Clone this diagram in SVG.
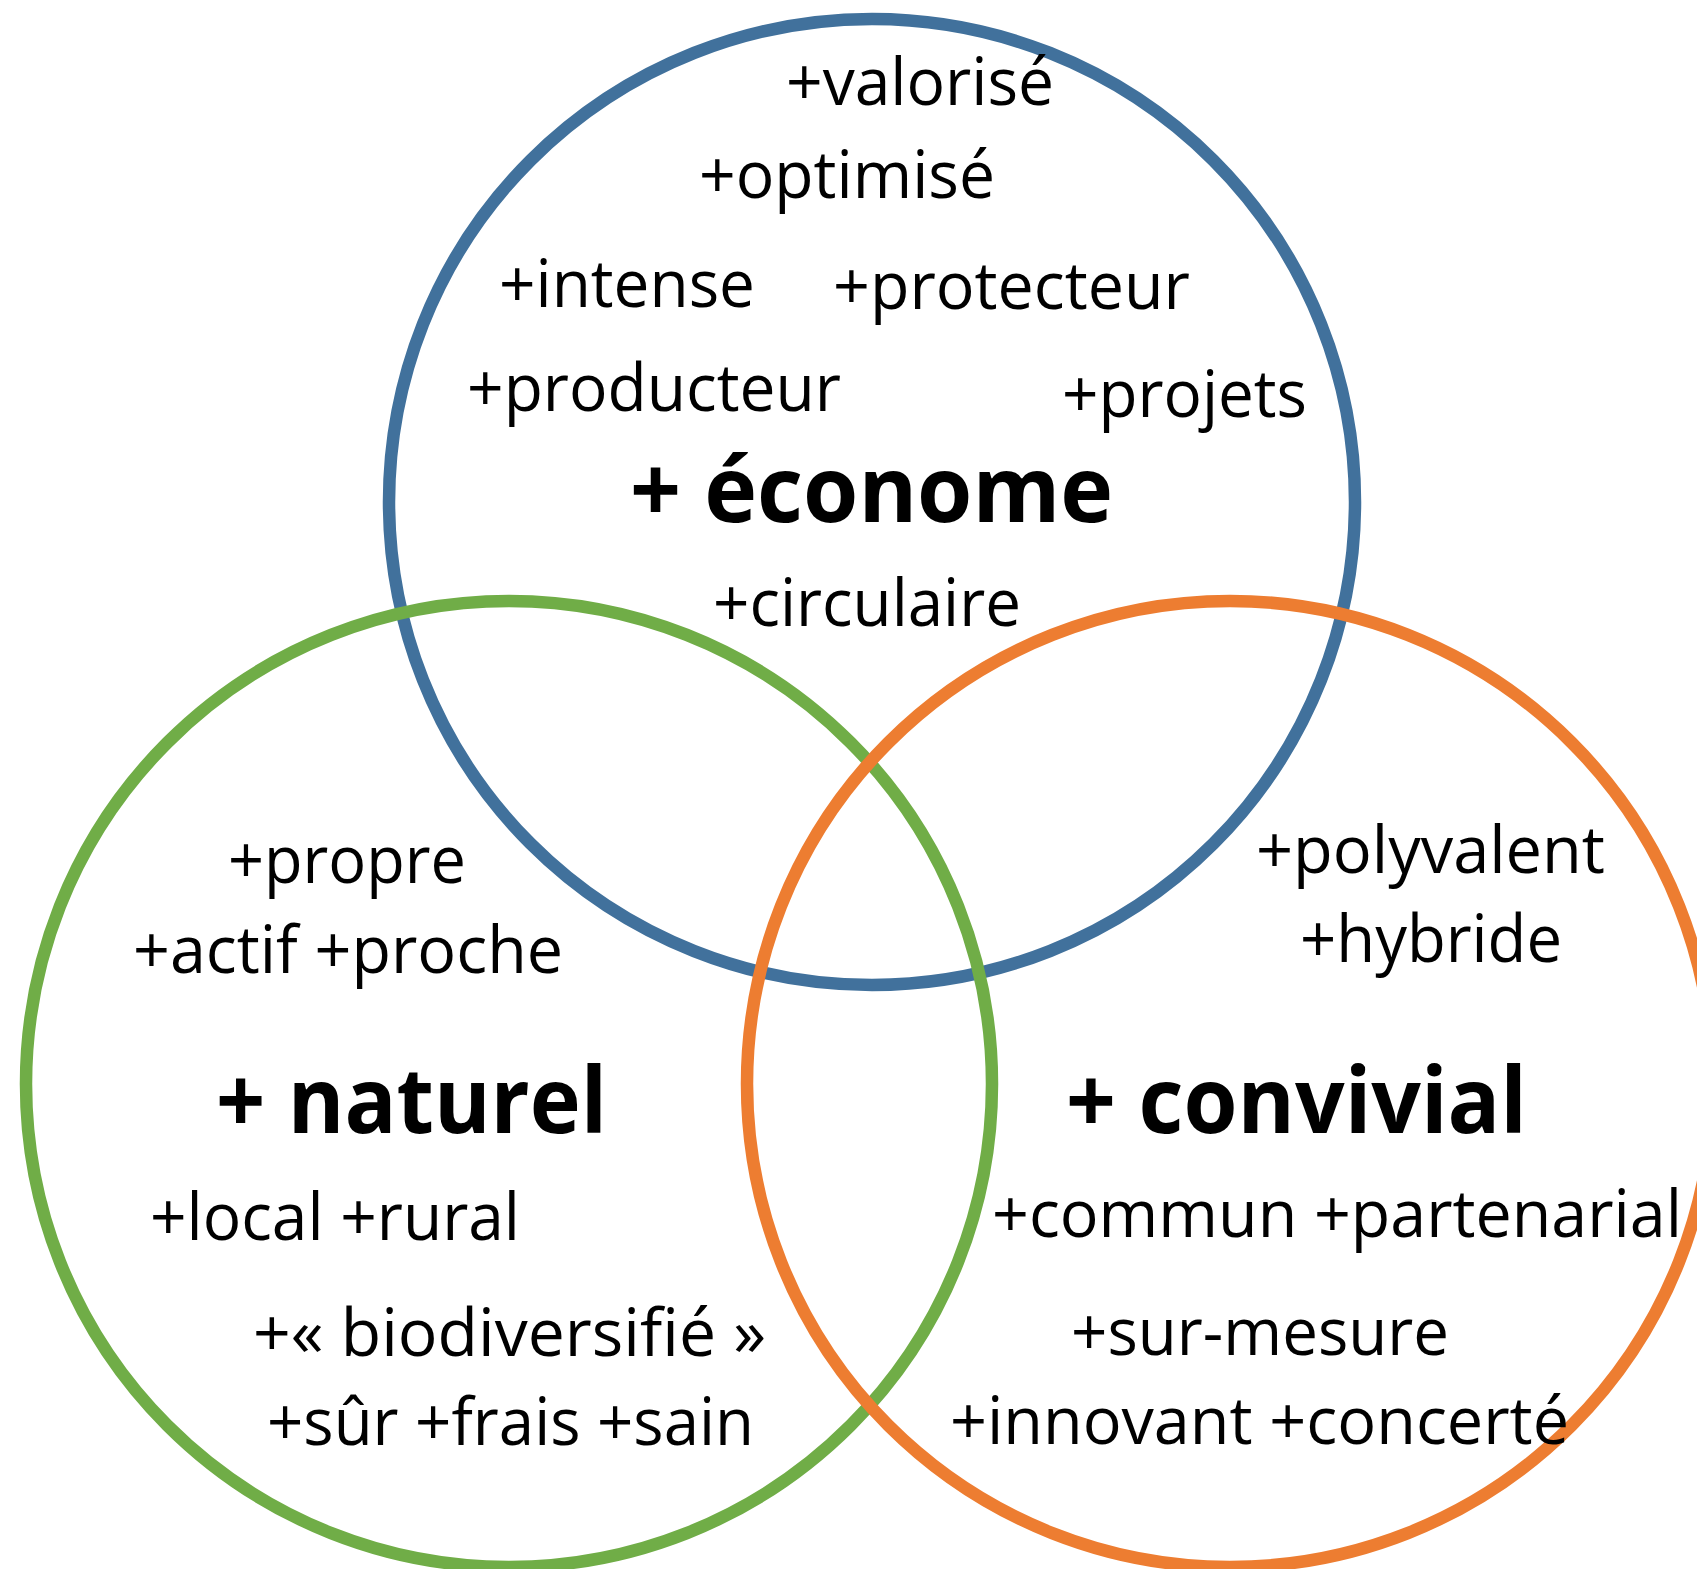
<svg xmlns="http://www.w3.org/2000/svg" width="1697" height="1569" viewBox="0 0 1697 1569">
<style>
.c{fill:none;stroke-width:12.5}
.t{font-family:"Open Sans","Liberation Sans",sans-serif;font-size:66px;fill:#000}
.b{font-family:"Open Sans","Liberation Sans",sans-serif;font-size:92px;font-weight:bold;fill:#000}
</style>
<rect width="1697" height="1569" fill="#fff"/>
<g id="econome">
<circle class="c" cx="872" cy="502" r="483" stroke="#41719C"/>
<text class="t" x="786" y="105" textLength="268" lengthAdjust="spacingAndGlyphs">+valorisé</text>
<text class="t" x="699" y="198" textLength="296" lengthAdjust="spacingAndGlyphs">+optimisé</text>
<text class="t" x="499" y="307" textLength="256" lengthAdjust="spacingAndGlyphs">+intense</text>
<text class="t" x="833" y="309" textLength="357" lengthAdjust="spacingAndGlyphs">+protecteur</text>
<text class="t" x="467" y="411" textLength="374" lengthAdjust="spacingAndGlyphs">+producteur</text>
<text class="t" x="1062" y="417" textLength="245" lengthAdjust="spacingAndGlyphs">+projets</text>
<text class="b" x="630" y="522" textLength="483" lengthAdjust="spacingAndGlyphs">+ économe</text>
<text class="t" x="713" y="626" textLength="308" lengthAdjust="spacingAndGlyphs">+circulaire</text>
</g>
<g id="naturel">
<circle class="c" cx="509" cy="1084" r="483" stroke="#70AD47"/>
<text class="t" x="228" y="883" textLength="238" lengthAdjust="spacingAndGlyphs">+propre</text>
<text class="t" x="133" y="973" textLength="430" lengthAdjust="spacingAndGlyphs">+actif +proche</text>
<text class="b" x="216" y="1133" textLength="391" lengthAdjust="spacingAndGlyphs">+ naturel</text>
<text class="t" x="150" y="1240" textLength="370" lengthAdjust="spacingAndGlyphs">+local +rural</text>
<text class="t" x="253" y="1356" textLength="513" lengthAdjust="spacingAndGlyphs">+« biodiversifié »</text>
<text class="t" x="267" y="1445" textLength="487" lengthAdjust="spacingAndGlyphs">+sûr +frais +sain</text>
</g>
<g id="convivial">
<circle class="c" cx="1230" cy="1084" r="483" stroke="#ED7D31"/>
<text class="t" x="1256" y="873" textLength="349" lengthAdjust="spacingAndGlyphs">+polyvalent</text>
<text class="t" x="1300" y="962" textLength="262" lengthAdjust="spacingAndGlyphs">+hybride</text>
<text class="b" x="1066" y="1133" textLength="461" lengthAdjust="spacingAndGlyphs">+ convivial</text>
<text class="t" x="992" y="1237" textLength="690" lengthAdjust="spacingAndGlyphs">+commun +partenarial</text>
<text class="t" x="1071" y="1355" textLength="378" lengthAdjust="spacingAndGlyphs">+sur-mesure</text>
<text class="t" x="950" y="1444" textLength="619" lengthAdjust="spacingAndGlyphs">+innovant +concerté</text>
</g>
<g id="connectors"/>
</svg>
